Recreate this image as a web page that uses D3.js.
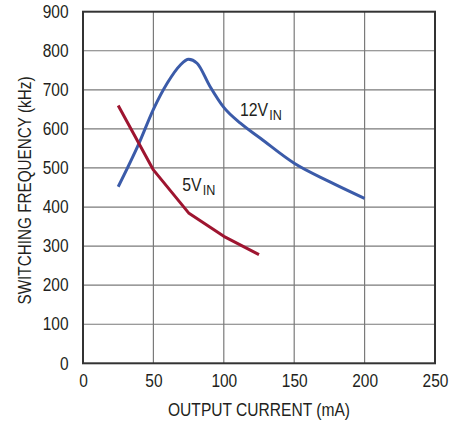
<!DOCTYPE html>
<html>
<head>
<meta charset="utf-8">
<script src="https://cdn.jsdelivr.net/npm/d3@7"></script>
<style>
  html, body { margin: 0; padding: 0; background: #fff; }
  svg { display: block; }
  text { font-family: "Liberation Sans Narrow", "Arial Narrow", "Liberation Sans", Arial, sans-serif; fill: #231f20; }
</style>
</head>
<body>
<svg id="chart" width="468" height="421"></svg>
<script>
// Data
const xTicks = [0, 50, 100, 150, 200, 250];
const yTicks = [0, 100, 200, 300, 400, 500, 600, 700, 800, 900];

const current12V = [25, 40, 50, 60, 69, 75, 81, 90, 100, 112, 126, 150, 175, 200];
const freq12V    = [452, 565, 650, 718, 763, 778, 768, 710, 655, 614, 576, 512, 465, 422];

const current5V = [25, 50, 75, 100, 125];
const freq5V    = [660, 495, 385, 325, 278];

const xTitle = "OUTPUT CURRENT (mA)";
const yTitle = "SWITCHING FREQUENCY (kHz)";

const svg = d3.select("#chart");
const m = { left: 83, right: 435, top: 11.7, bottom: 363.3 };

const x = d3.scaleLinear().domain([0, 250]).range([m.left, m.right]);
const y = d3.scaleLinear().domain([0, 900]).range([m.bottom, m.top]);

function condense(sel, factor) {
  sel.each(function() {
    const len = this.getComputedTextLength();
    if (len > 0) d3.select(this).attr("textLength", len * factor).attr("lengthAdjust", "spacingAndGlyphs");
  });
}

// grid
const grid = svg.append("g");
grid.selectAll("line.v").data(xTicks.slice(1, -1)).enter().append("line")
  .attr("x1", d => x(d)).attr("x2", d => x(d))
  .attr("y1", m.top).attr("y2", m.bottom)
  .attr("stroke", "#7a7a7a").attr("stroke-width", 1.2);
grid.selectAll("line.h").data(yTicks.slice(1, -1)).enter().append("line")
  .attr("x1", m.left).attr("x2", m.right)
  .attr("y1", d => y(d)).attr("y2", d => y(d))
  .attr("stroke", "#7a7a7a").attr("stroke-width", 1.2);

// frame
svg.append("rect")
  .attr("x", m.left).attr("y", m.top)
  .attr("width", m.right - m.left).attr("height", m.bottom - m.top)
  .attr("fill", "none").attr("stroke", "#333").attr("stroke-width", 2);

// axes (labels only)
const xAxis = d3.axisBottom(x).tickValues(xTicks).tickSize(0).tickPadding(11);
const gx = svg.append("g").attr("transform", `translate(0,${m.bottom})`).call(xAxis);
gx.select(".domain").remove();
gx.selectAll("text").attr("font-size", 18).attr("fill", "#231f20");

const yAxis = d3.axisLeft(y).tickValues(yTicks).tickSize(0).tickPadding(14.5);
const gy = svg.append("g").attr("transform", `translate(${m.left},0)`).call(yAxis);
gy.select(".domain").remove();
gy.selectAll("text").attr("font-size", 18).attr("fill", "#231f20");
svg.selectAll("g").attr("font-family", null);
condense(svg.selectAll(".tick text"), 0.86);

// titles
svg.append("text")
  .attr("x", (m.left + m.right) / 2).attr("y", 416)
  .attr("text-anchor", "middle").attr("font-size", 18)
  .attr("textLength", 182).attr("lengthAdjust", "spacingAndGlyphs")
  .text(xTitle);
svg.append("text")
  .attr("transform", `translate(31,${(m.top + m.bottom) / 2 + 3}) rotate(-90)`)
  .attr("text-anchor", "middle").attr("font-size", 18)
  .attr("textLength", 228).attr("lengthAdjust", "spacingAndGlyphs")
  .text(yTitle);

// lines
const line12 = d3.line().x(d => x(d[0])).y(d => y(d[1])).curve(d3.curveMonotoneX);
svg.append("path")
  .datum(current12V.map((c, i) => [c, freq12V[i]]))
  .attr("d", line12).attr("fill", "none")
  .attr("stroke", "#3b5ba9").attr("stroke-width", 3).attr("stroke-linejoin", "round");

const line5 = d3.line().x(d => x(d[0])).y(d => y(d[1])).curve(d3.curveLinear);
svg.append("path")
  .datum(current5V.map((c, i) => [c, freq5V[i]]))
  .attr("d", line5).attr("fill", "none")
  .attr("stroke", "#9e1530").attr("stroke-width", 3).attr("stroke-linejoin", "round");

// series labels (main text plus a separate subscript, condensed by a scale transform)
function seriesLabel(px, py, main, sub) {
  const sx = 0.88;
  const t = svg.append("text")
    .attr("transform", `translate(${px},${py}) scale(${sx},1)`)
    .attr("font-size", 18).text(main);
  const w = t.node().getComputedTextLength() * sx;
  svg.append("text")
    .attr("transform", `translate(${px + w + 1.2},${py + 4}) scale(0.9,1)`)
    .attr("font-size", 14).text(sub);
}
seriesLabel(x(111.5), y(634), "12V", "IN");
seriesLabel(x(70.5), y(440), "5V", "IN");
</script>
</body>
</html>
